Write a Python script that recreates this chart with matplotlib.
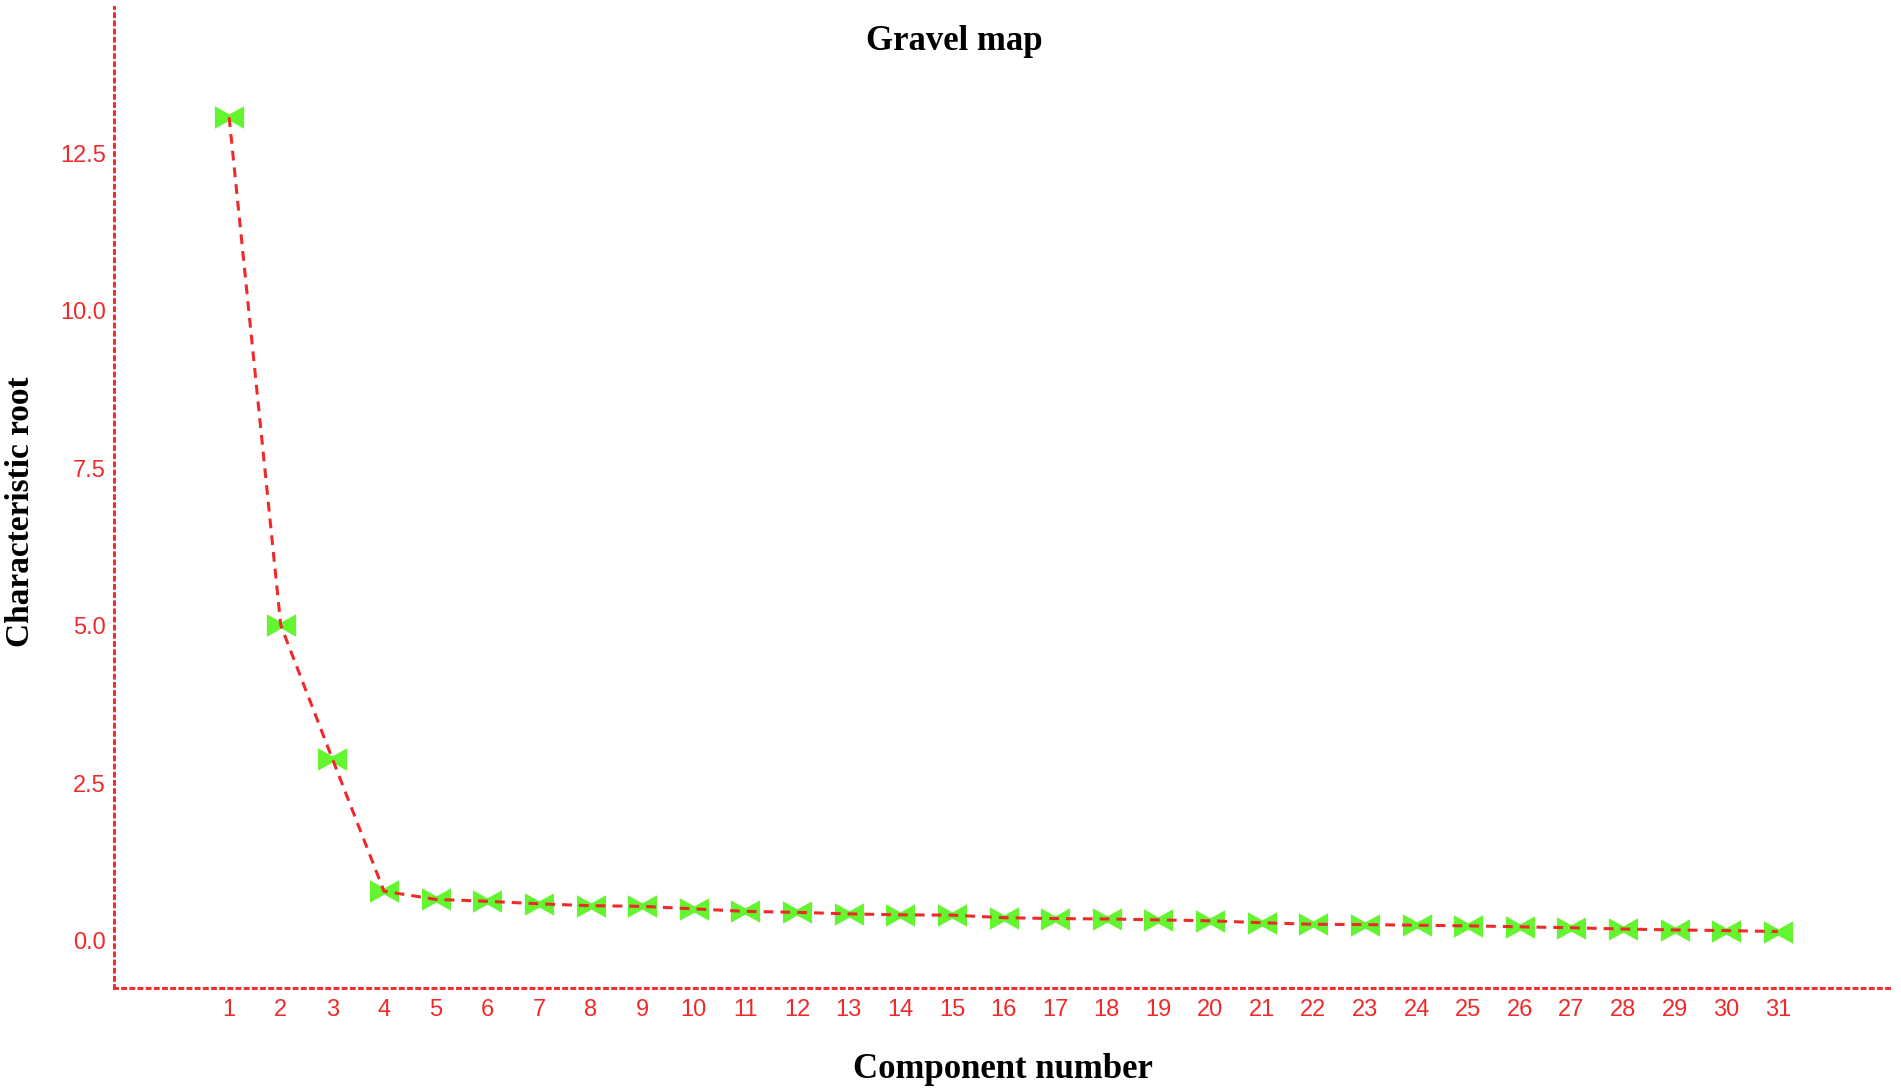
import matplotlib
matplotlib.use("Agg")
import matplotlib.pyplot as plt
from matplotlib.path import Path

# ---- data ----
components = list(range(1, 32))
eigenvalues = [13.07, 5.01, 2.89, 0.79, 0.66, 0.63, 0.59, 0.56, 0.55, 0.51,
               0.47, 0.455, 0.43, 0.415, 0.41, 0.37, 0.355, 0.35, 0.335, 0.32,
               0.29, 0.265, 0.26, 0.25, 0.24, 0.225, 0.21, 0.19, 0.175, 0.165, 0.15]
ytick_vals = [0.0, 2.5, 5.0, 7.5, 10.0, 12.5]
title = "Gravel map"
xlabel = "Component number"
ylabel = "Characteristic root"

RED = "#f02a2a"
GREEN = "#62f530"

W, H = 1901, 1090
fig = plt.figure(figsize=(W / 100, H / 100), dpi=100)
ax = fig.add_axes([114 / W, 1 - 988 / H, (1891 - 114) / W, (988 - 7) / H])

# bow-tie marker with a narrow waist
M, L, C = Path.MOVETO, Path.LINETO, Path.CLOSEPOLY
verts = [(-1.3, 1), (0, 0.28), (1.3, 1), (1.3, -1), (0, -0.28), (-1.3, -1), (-1.3, 1)]
codes = [M, L, L, L, L, L, C]
bowtie = Path(verts, codes)

ax.plot(components, eigenvalues, linestyle="none", marker=bowtie,
        markersize=21, markerfacecolor=GREEN, markeredgewidth=0, zorder=2)
ax.plot(components, eigenvalues, linestyle=(0, (3.2, 2.3)), color=RED,
        linewidth=2.2, zorder=3)

ax.set_xlim(-1.23, 33.19)
ax.set_ylim(-0.746, 14.82)
ax.set_xticks(components)
ax.set_xticklabels([str(c) for c in components])
ax.set_yticks(ytick_vals)
ax.set_yticklabels([f"{v:.1f}" for v in ytick_vals])

for lab in ax.get_xticklabels() + ax.get_yticklabels():
    lab.set_fontfamily("Liberation Sans")
    lab.set_fontsize(17)
    lab.set_color(RED)
ax.tick_params(axis="both", length=0)
ax.tick_params(axis="y", pad=6)
ax.tick_params(axis="x", pad=8)

for s in ["top", "right"]:
    ax.spines[s].set_visible(False)
for s in ["left", "bottom"]:
    ax.spines[s].set_color(RED)
    ax.spines[s].set_linewidth(2.1)
    ax.spines[s].set_linestyle((0, (1, 1.8)))

fig.text(954 / W, 1 - 42 / H, title, ha="center", va="center",
         fontsize=25, fontweight="bold", family="Liberation Serif")
fig.text(1003 / W, 1 - 1069 / H, xlabel, ha="center", va="center",
         fontsize=25, fontweight="bold", family="Liberation Serif")
fig.text(21 / W, 1 - 512 / H, ylabel, ha="center", va="center", rotation=90,
         fontsize=24, fontweight="bold", family="Liberation Serif")

fig.savefig("out.png", dpi=100, facecolor="white")
